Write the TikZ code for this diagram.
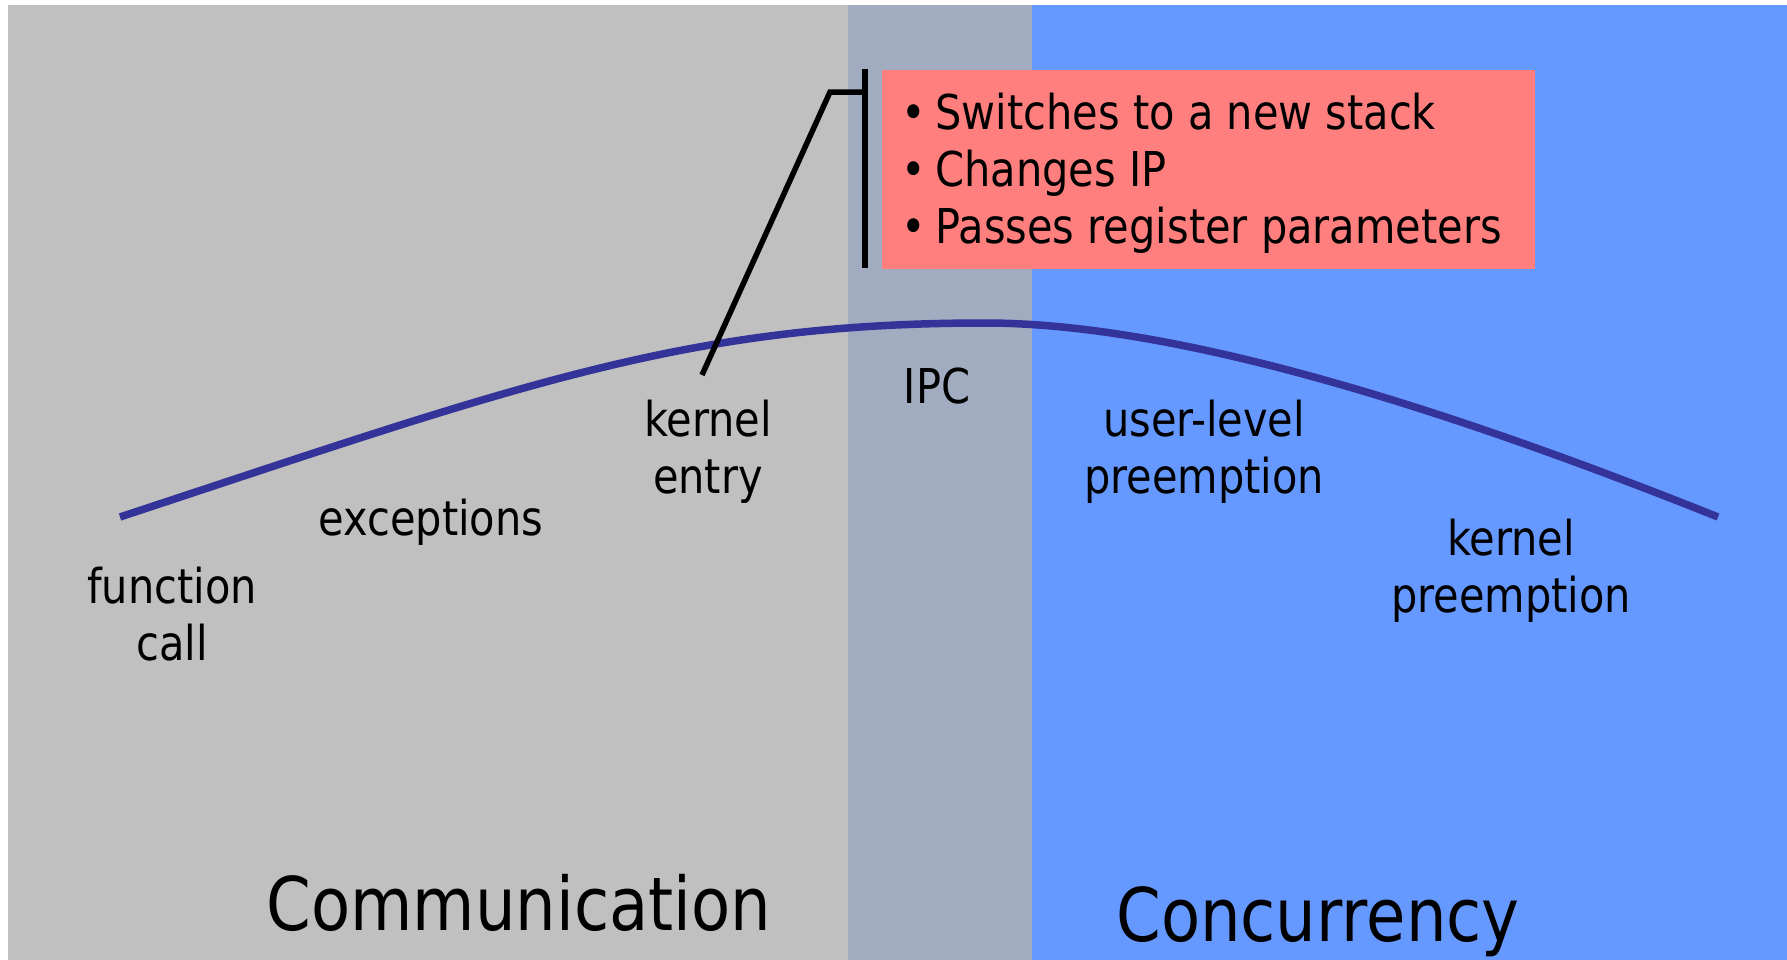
\documentclass[tikz,border=0pt]{standalone}
\usepackage{fontspec}
\setmainfont{DejaVu Sans}[FakeStretch=0.865]
\definecolor{commgray}{HTML}{C0C0C0}
\definecolor{ipcgray}{HTML}{A1ACC1}
\definecolor{concblue}{HTML}{6699FF}
\definecolor{notered}{HTML}{FF7F7F}
\definecolor{curveblue}{HTML}{333399}
\newcommand{\itembul}{\makebox[13.6pt][l]{•}}
\begin{document}
\begin{tikzpicture}[x=0.4pt,y=-0.4pt,
  lab/.style={font=\fontsize{19.2pt}{22.8pt}\selectfont, inner sep=0pt, align=center, anchor=base},
  heading/.style={font=\fontsize{29.6pt}{34pt}\selectfont, inner sep=0pt, anchor=base},
  spectrum/.style={draw=curveblue, line width=3pt},
  pointer/.style={draw=black, line width=2.2pt}]
\useasboundingbox (0,0) rectangle (1787,960);

% background bands
\fill[commgray] (8,5) rectangle (848,960);
\fill[ipcgray] (848,5) rectangle (1032,960);
\fill[concblue] (1032,5) rectangle (1787,960);

% spectrum curve
\coordinate (cstart) at (120,517);
\coordinate (cpeak) at (985,323);
\coordinate (cend) at (1718,517);
\draw[spectrum] (cstart) .. controls (520,385) and (685,323) .. (cpeak)
  .. controls (1165,323) and (1418,397) .. (cend);

% kernel entry callout (multi-line nodes sit on their last baseline)
\node[fill=notered, inner sep=0pt, minimum width=261.2pt, minimum height=79.6pt, anchor=north west] (box) at (881,69) {};
\node[font=\fontsize{19.2pt}{22.8pt}\selectfont, inner sep=0pt, align=left, anchor=base west] (items) at (901,243)
  {\itembul Switches to a new stack\\ \itembul Changes IP\\ \itembul Passes register parameters};
\coordinate (bartop) at (865,69);
\coordinate (barbot) at (865,268);
\coordinate (elbow) at (830,92);
\coordinate (tip) at (702,375);
\draw[pointer] (bartop) -- (barbot);
\draw[pointer] (tip) -- (elbow) -- (elbow -| bartop);

% labels along the curve
\node[lab] (fcall) at (172,660) {function\\call};
\node[lab] (exc) at (431,535) {exceptions};
\node[lab] (kentry) at (708,493) {kernel\\entry};
\node[lab] (ipc) at (937,403) {IPC};
\node[lab] (ulp) at (1204,493) {user-level\\preemption};
\node[lab] (kp) at (1511,612) {kernel\\preemption};

% band headings
\node[heading] (comm) at (519,930) {Communication};
\node[heading] (conc) at (1318,941) {Concurrency};
\end{tikzpicture}
\end{document}
